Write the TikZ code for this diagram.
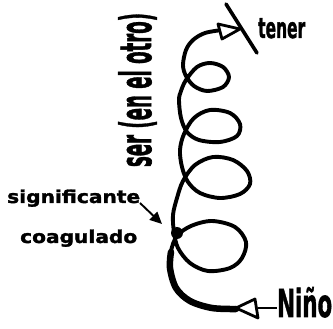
\documentclass[tikz,border=0pt]{standalone}
\usepackage{fontspec}
\setmainfont{DejaVu Sans}
\newfontfamily\heavyfont[FakeBold=1.6]{DejaVu Sans Bold}
\usetikzlibrary{arrows.meta}
\begin{document}
\begin{tikzpicture}[x=1pt,y=-1pt,
  curve/.style={line width=3.9pt, line cap=round, line join=round},
  lbl/.style={inner sep=0pt, font=\heavyfont},
  tipbox/.style={draw=black, fill=white, line width=2.8pt, line join=round},
  pointer/.style={line width=1.9pt, -{Triangle[length=12pt,width=11pt]}}]
\useasboundingbox (0,0) rectangle (333,329);
% labels
\node[lbl] (ser) at (137.5,90) {\rotatebox{90}{\resizebox{154pt}{33pt}{ser (en el otro)}}};
\node[lbl, anchor=base west] (sig) at (7,203) {\resizebox{133pt}{13.5pt}{significante}};
\node[lbl, anchor=base west] (coag) at (20,243) {\resizebox{117pt}{13.5pt}{coagulado}};
\node[lbl, anchor=base west] (tener) at (258,38) {\resizebox{47pt}{20pt}{tener}};
\node[lbl, anchor=base west] (nino) at (277,317) {\resizebox{55pt}{30pt}{Niño}};
% the coil
\draw[curve] plot[smooth, tension=0.55] coordinates {
  (238,309) (212,308) (190,301) (176,288) (170,268) (171,251) (177,236)
  (191,226) (212,221) (235,227) (246,242) (242,258) (230,268) (208,271) (190,263) (178,248) (174,232)
  (173,215) (177,198) (183,181)
  (195,165) (213,157) (233,160) (247,171) (250,184) (240,194) (220,198) (200,193) (188,182) (182,167)
  (180,150) (184,134)
  (194,118) (210,110) (230,113) (240,124) (237,136) (220,142) (199,140) (187,132) (181,118)
  (179,100) (181,91) (186,80)
  (197,67) (210,63) (223,67) (229,77) (223,87) (207,91) (194,86) (186,76) (183,65)
  (186,50) (193,40) (205,33) (222,30)};
\draw[line width=6.5pt, line cap=round] plot[smooth, tension=0.55] coordinates {
  (236,309) (212,308) (190,301) (176,288) (170,268) (171,252)};
% knot
\node[circle, fill=black, inner sep=0pt, minimum size=12pt] (knot) at (177,233) {};
% top end: arrow tip and bar
\coordinate (barA) at (226,4);
\coordinate (barB) at (257,53);
\draw[line width=3.6pt, line cap=round] (barA) -- (barB);
\draw[tipbox] (218,24) -- (240,29) -- (222,39) -- cycle;
% bottom end: arrow tip and line to Niño
\draw[tipbox] (236,308) -- (255,299) -- (258,318) -- cycle;
\coordinate (ninoline) at (258,308);
\draw[line width=1.4pt] (ninoline) -- (nino.west |- ninoline);
% pointer to the knot
\coordinate (sigtail) at (140,203);
\coordinate (sigtip) at (162,224);
\draw[pointer] (sigtail) -- (sigtip);
\end{tikzpicture}
\end{document}
